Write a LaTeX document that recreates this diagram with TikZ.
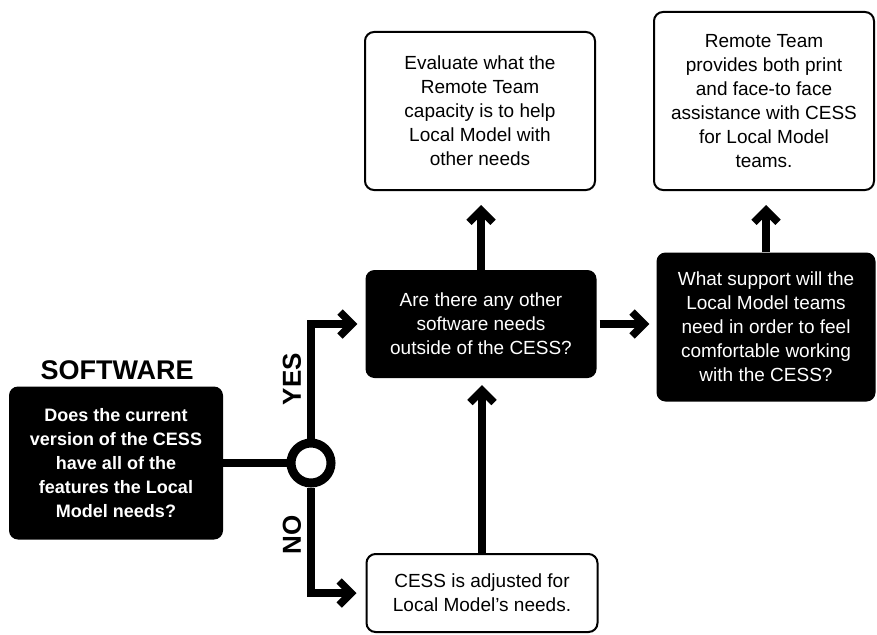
\documentclass[tikz,border=0pt]{standalone}
\usepackage{fontspec}
\setmainfont{Liberation Sans}
\usetikzlibrary{arrows.meta}

\begin{document}
\begin{tikzpicture}[x=1pt, y=-1pt,
    darkbox/.style={fill=black, text=white, rounded corners=9pt, align=center, inner sep=0pt, font=\fontsize{19}{24}\selectfont},
    lightbox/.style={draw=black, line width=2pt, fill=white, rounded corners=9pt, align=center, inner sep=0pt, font=\fontsize{19}{24}\selectfont},
    link/.style={line width=8pt},
    arr/.style={line width=7.5pt, -{Straight Barb[length=12pt,width=24pt]}},
    branch/.style={font=\bfseries\fontsize{26}{26}\selectfont, rotate=90}]
    \useasboundingbox (0,0) rectangle (877,634);

    % Start
    \node[font=\bfseries\fontsize{27}{27}\selectfont] (title) at (117,370) {SOFTWARE};
    \node[darkbox, minimum width=214pt, minimum height=153pt, font=\bfseries\fontsize{18}{24}\selectfont] (soft) at (116,463)
        {Does the current\\version of the CESS\\have all of the\\features the Local\\Model needs?};

    % Middle column
    \node[darkbox, minimum width=231pt, minimum height=108pt] (others) at (481,324)
        {Are there any other\\software needs\\outside of the CESS?};
    \node[lightbox, minimum width=230pt, minimum height=158pt] (eval) at (480,111)
        {Evaluate what the\\Remote Team\\capacity is to help\\Local Model with\\other needs};
    \node[lightbox, minimum width=231pt, minimum height=78pt] (adjust) at (482,593)
        {CESS is adjusted for\\Local Model’s needs.};

    % Right column
    \node[darkbox, minimum width=219pt, minimum height=149pt] (support) at (766,327)
        {What support will the\\Local Model teams\\need in order to feel\\comfortable working\\with the CESS?};
    \node[lightbox, minimum width=220pt, minimum height=178pt] (remote) at (764,101)
        {Remote Team\\provides both print\\and face-to face\\assistance with CESS\\for Local Model\\teams.};

    % Junction
    \draw[link] (soft.east) -- (311,463);
    \node[circle, draw, line width=9pt, fill=white, minimum size=40pt, inner sep=0pt] (hub) at (311,463) {};

    % Branches
    \draw[arr, shorten >=8pt] (hub.north) |- (others.west);
    \draw[arr, shorten >=9pt] (hub.south) |- (adjust.west);
    \node[branch] (yes) at (292,379) {YES};
    \node[branch] (no) at (292,535) {NO};

    % Connectors
    \draw[arr, shorten >=14pt] (others.north) -- (others.north |- eval.south);
    \draw[arr, shorten >=7pt] (adjust.north) -- (adjust.north |- others.south);
    \draw[arr, shorten <=3pt, shorten >=7pt] (others.east) -- (others.east -| support.west);
    \draw[arr, shorten >=14pt] (support.north) -- (support.north |- remote.south);
\end{tikzpicture}
\end{document}
